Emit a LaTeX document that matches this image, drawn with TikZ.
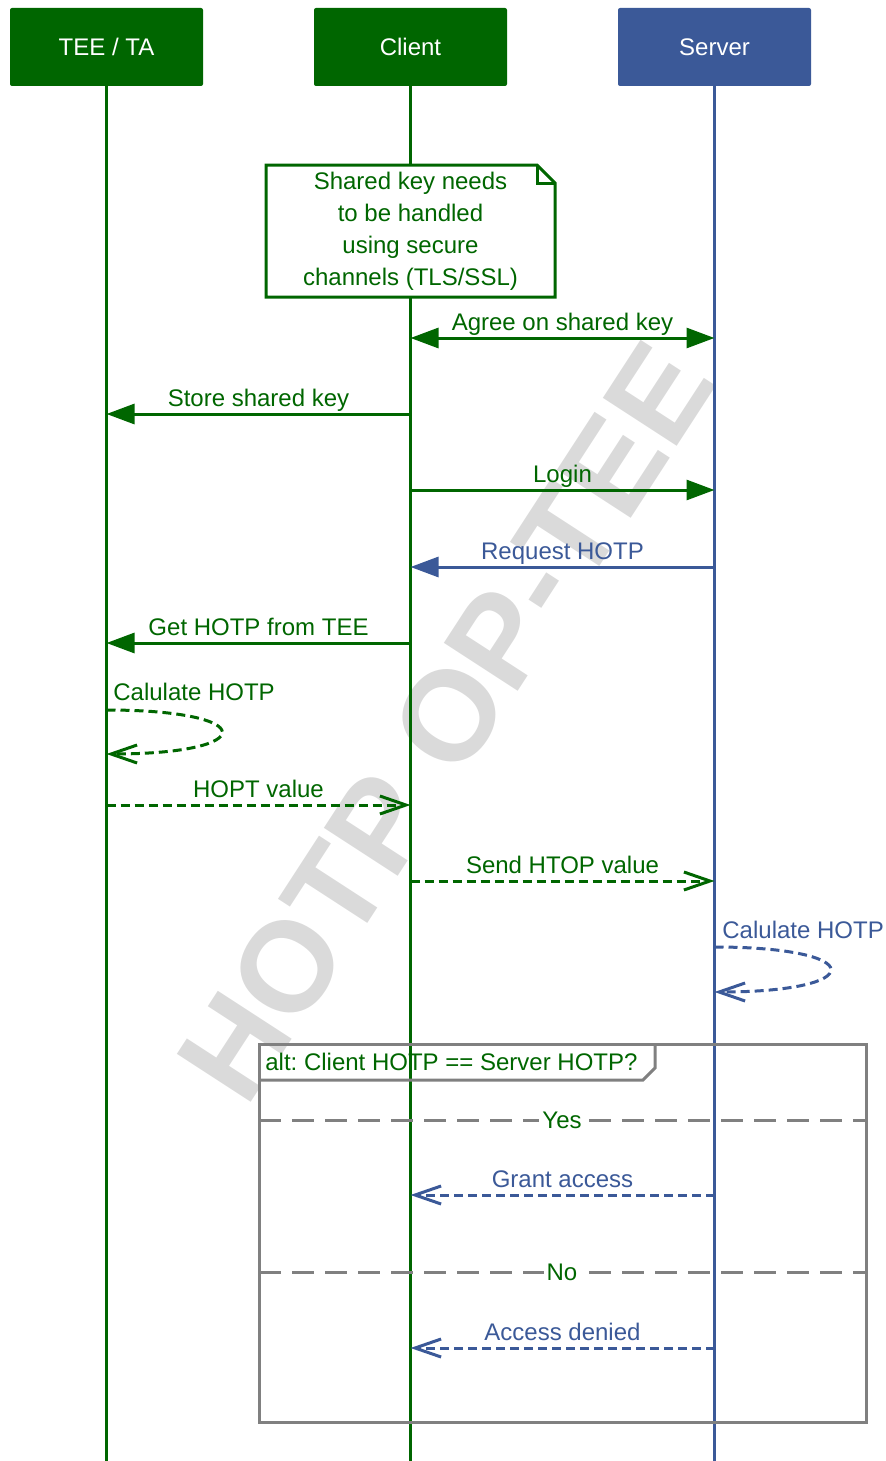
\documentclass[tikz,border=0pt]{standalone}
\usepackage{fontspec}
\setmainfont{Liberation Sans}
\usetikzlibrary{arrows.meta,calc}
\definecolor{dg}{HTML}{006600}
\definecolor{fb}{HTML}{3B5998}
\definecolor{fr}{HTML}{808080}
\definecolor{wmc}{HTML}{DADADA}
\frenchspacing
\begin{document}
\begin{tikzpicture}[x=0.5pt,y=-0.5pt,
  every node/.style={font=\fontsize{12}{16}\selectfont},
  hdr/.style={minimum width=96.5pt, minimum height=39pt, inner sep=0pt, text=white, rounded corners=1pt},
  life/.style={line width=1.5pt},
  msg/.style={line width=1.5pt},
  sync/.style={msg,-{Triangle[length=14pt,width=10pt]}},
  ret/.style={msg, dash pattern=on 4.5pt off 2.5pt, -{Straight Barb[length=13pt,width=9pt]}},
  lbl/.style={inner sep=0pt, anchor=base, yshift=4pt},
  divider/.style={line width=1.5pt, fr, dash pattern=on 11pt off 5.5pt},
  divlbl/.style={fill=white, inner sep=1.5pt, text=dg}
]
\path[use as bounding box] (0,0) rectangle (886,1461);

% watermark
\node[rotate=57, text=wmc, font=\fontsize{64}{64}\bfseries\selectfont, inner sep=0pt] (wmark) at (446,722) {HOTP OP-TEE};

% headers
\node[hdr, fill=dg] (tee) at (106.5,47) {TEE / TA};
\node[hdr, fill=dg] (client) at (410.5,47) {Client};
\node[hdr, fill=fb] (server) at (714.5,47) {Server};

% lifelines
\coordinate (bot) at (0,1461);
\draw[life, dg] (tee.south) -- (tee.south |- bot);
\draw[life, dg] (client.south) -- (client.south |- bot);
\draw[life, fb] (server.south) -- (server.south |- bot);

% note
\draw[line width=1.5pt, dg, fill=white] (266,165) -- (537,165) -- (555,183) -- (555,297) -- (266,297) -- cycle;
\draw[line width=1.5pt, dg, line join=miter] (537,165) -- (537,183) -- (555,183);
\node[align=center, text=dg, inner sep=0pt] (note) at (410.5,231) {Shared key needs\\to be handled\\using secure\\channels (TLS/SSL)};

% messages
\draw[msg, dg, {Triangle[length=14pt,width=10pt]}-{Triangle[length=14pt,width=10pt]}] (client |- 0,338) -- node[lbl, text=dg] (lagree) {Agree on shared key} (server |- 0,338);
\draw[sync, dg] (client |- 0,414) -- node[lbl, text=dg] (lstore) {Store shared key} (tee |- 0,414);
\draw[sync, dg] (client |- 0,490) -- node[lbl, text=dg] (llogin) {Login} (server |- 0,490);
\draw[sync, fb] (server |- 0,567) -- node[lbl, text=fb] (lreq) {Request HOTP} (client |- 0,567);
\draw[sync, dg] (client |- 0,643) -- node[lbl, text=dg] (lget) {Get HOTP from TEE} (tee |- 0,643);

\draw[ret, dg] (tee |- 0,710) .. controls (260,710) and (260,754) .. (tee |- 0,754);
\node[anchor=base west, inner sep=0pt, text=dg] (lcalc1) at (113,700) {Calulate HOTP};

\draw[ret, dg] (tee |- 0,805) -- node[lbl, text=dg] (lhopt) {HOPT value} (client |- 0,805);
\draw[ret, dg] (client |- 0,881) -- node[lbl, text=dg] (lsend) {Send HTOP value} (server |- 0,881);

\draw[ret, fb] (server |- 0,947) .. controls (869,947) and (869,992) .. (server |- 0,992);
\node[anchor=base west, inner sep=0pt, text=fb] (lcalc2) at (722,938) {Calulate HOTP};

% alt frame
\draw[line width=1.5pt, fr] (259,1044) rectangle (866,1422);
\draw[line width=1.5pt, fr, line join=miter] (259,1080) -- (643,1080) -- (655,1068) -- (655,1044);
\node[anchor=base west, inner sep=0pt, text=dg] (altlbl) at (265,1070) {alt: Client HOTP == Server HOTP?};

\draw[divider] (259,1120) -- (866,1120);
\node[divlbl] (yes) at (562,1120) {Yes};
\draw[ret, fb] (server |- 0,1195) -- node[lbl, text=fb] (lgrant) {Grant access} (client |- 0,1195);

\draw[divider] (259,1272) -- (866,1272);
\node[divlbl] (no) at (562,1272) {No};
\draw[ret, fb] (server |- 0,1348) -- node[lbl, text=fb] (ldeny) {Access denied} (client |- 0,1348);
\end{tikzpicture}
\end{document}
